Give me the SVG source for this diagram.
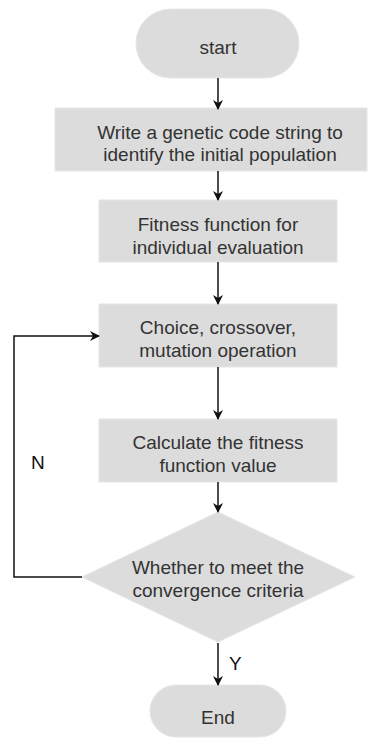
<svg xmlns="http://www.w3.org/2000/svg" width="369" height="742" viewBox="0 0 369 742">
<style>
.n{fill:#dcdcdc;stroke:#e6e6e6;stroke-width:1}
.t{font-family:"Liberation Sans",Arial,sans-serif;font-size:19px;fill:#333;text-anchor:middle}
.l{font-family:"Liberation Sans",Arial,sans-serif;font-size:19px;fill:#111}
.c{fill:none;stroke:#111;stroke-width:1.5}
</style>
<defs>
<marker id="a" markerWidth="10" markerHeight="10" refX="9" refY="5" orient="auto" markerUnits="userSpaceOnUse">
<path d="M0,0 L10,5 L0,10 L3,5 Z" fill="#111"/>
</marker>
</defs>
<rect width="369" height="742" fill="#fff"/>
<g id="start"><rect class="n" x="136" y="9" width="163" height="69" rx="34.5"/><text class="t" x="218" y="54">start</text></g>
<g id="init"><rect class="n" x="55" y="108" width="312" height="63"/><text class="t" x="220" y="139">Write a genetic code string to</text><text class="t" x="220" y="161">identify the initial population</text></g>
<g id="fitness"><rect class="n" x="99" y="200" width="238" height="62"/><text class="t" x="218" y="231">Fitness function for</text><text class="t" x="218" y="254">individual evaluation</text></g>
<g id="choice"><rect class="n" x="99" y="304" width="238" height="63"/><text class="t" x="218" y="334">Choice, crossover,</text><text class="t" x="218" y="357">mutation operation</text></g>
<g id="calc"><rect class="n" x="99" y="419" width="238" height="63"/><text class="t" x="218" y="449">Calculate the fitness</text><text class="t" x="218" y="472">function value</text></g>
<g id="decision"><path class="n" d="M218,512 L355,577 L218,642 L82,577 Z"/><text class="t" x="218" y="574">Whether to meet the</text><text class="t" x="218" y="597">convergence criteria</text></g>
<g id="end"><rect class="n" x="150" y="685" width="136" height="52" rx="26"/><text class="t" x="218" y="724">End</text></g>
<g id="connectors">
<path class="c" d="M218,78 V109" marker-end="url(#a)"/>
<path class="c" d="M218,171 V200" marker-end="url(#a)"/>
<path class="c" d="M218,262 V304" marker-end="url(#a)"/>
<path class="c" d="M218,367 V419" marker-end="url(#a)"/>
<path class="c" d="M218,482 V512" marker-end="url(#a)"/>
<path class="c" d="M218,643 V685" marker-end="url(#a)"/>
<path class="c" d="M82,577 H14 V336 H99" marker-end="url(#a)"/>
<text class="l" x="31" y="469">N</text>
<text class="l" x="229" y="670">Y</text>
</g>
</svg>
